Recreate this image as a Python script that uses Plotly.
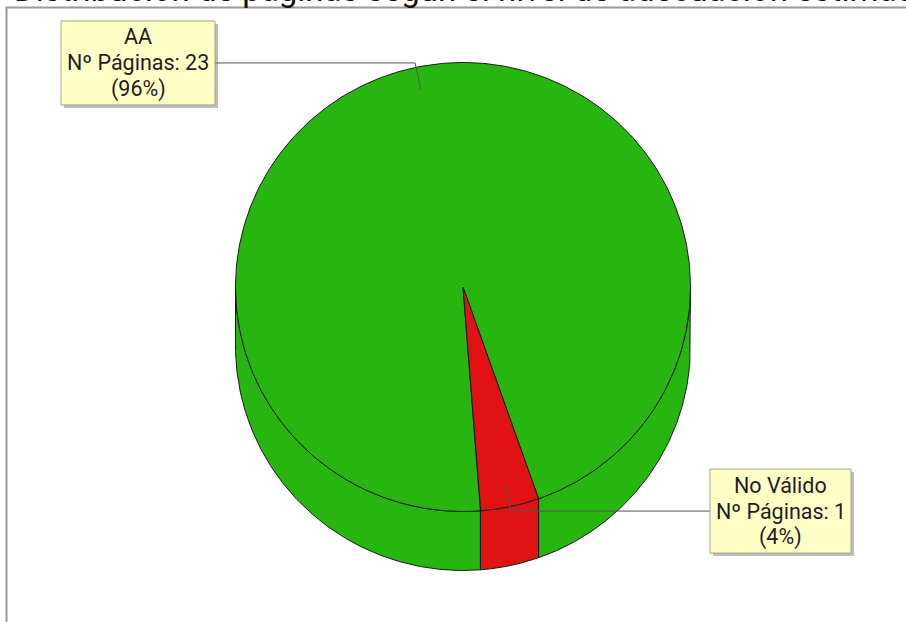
import numpy as np
import plotly.graph_objects as go

# ---------------- data ----------------
categories = ["AA", "No Válido"]
pages = [23, 1]
slice_colors = ["#26B60F", "#E01212"]
title_text = "Distribución de páginas según el nivel de adecuación estimado"
value_label = "Nº Páginas"

# ---------------- geometry / style (pixel space) ----------------
W, H = 906, 622
cx, cy = 463.0, 287.0      # centre of the top face
rx, ry = 227.5, 224.5      # radii of top face
depth = 59.0               # thickness of the pie
start_deg = 19.4           # angle (from 6 o'clock, counter-clockwise on screen) of first slice start
edge_col = "#1A1A1A"
font_fam = "Roboto"
label_size = 21.5
line_gap = 26

total = float(sum(pages))
fracs = [p / total for p in pages]
bounds = [start_deg]
for f in fracs:
    bounds.append(bounds[-1] + 360.0 * f)


def px(theta_deg, r=1.0):
    t = np.radians(theta_deg)
    return cx + r * rx * np.sin(t), cy + r * ry * np.cos(t)


fig = go.Figure()

# ---- side walls (only front half visible: cos(theta) >= 0) ----
for i, cat in enumerate(categories):
    a, b = bounds[i], bounds[i + 1]
    for k in range(-1, 3):
        lo, hi = -90 + 360 * k, 90 + 360 * k
        s, e = max(a, lo), min(b, hi)
        if e - s <= 0.01:
            continue
        th = np.linspace(s, e, 200)
        xt, yt = px(th)
        xs = np.concatenate([xt, xt[::-1], xt[:1]])
        ys = np.concatenate([yt, (yt + depth)[::-1], yt[:1]])
        fig.add_trace(go.Scatter(x=xs, y=ys, mode="lines", fill="toself",
                                 fillcolor=slice_colors[i],
                                 line=dict(color=edge_col, width=1),
                                 hoverinfo="skip", showlegend=False))

# ---- top face slices ----
for i, cat in enumerate(categories):
    a, b = bounds[i], bounds[i + 1]
    th = np.linspace(a, b, 400)
    xt, yt = px(th)
    xs = np.concatenate([[cx], xt, [cx]])
    ys = np.concatenate([[cy], yt, [cy]])
    fig.add_trace(go.Scatter(x=xs, y=ys, mode="lines", fill="toself",
                             fillcolor=slice_colors[i],
                             line=dict(color=edge_col, width=1),
                             name=cat, hoverinfo="skip", showlegend=False))

# ---- labels with leader lines ----
box_x = {"AA": (61, 215), "No Válido": (710, 851)}
box_h = 84
shapes = []
annotations = []
for i, cat in enumerate(categories):
    mid = (bounds[i] + bounds[i + 1]) / 2.0
    x_in, y_in = px(mid, 0.9)
    x_el, y_el = px(mid, 1.02)
    bx0, bx1 = box_x[cat]
    edge_x = bx1 if x_el > bx1 else bx0
    fig.add_trace(go.Scatter(x=[x_in, x_el, edge_x], y=[y_in, y_el, y_el],
                             mode="lines", line=dict(color="#555555", width=1),
                             hoverinfo="skip", showlegend=False))
    by0, by1 = y_el - box_h / 2, y_el + box_h / 2
    shapes.append(dict(type="rect", xref="x", yref="y", x0=bx0 + 3, x1=bx1 + 3,
                       y0=by0 + 3, y1=by1 + 3, line=dict(width=0),
                       fillcolor="rgba(110,110,110,0.45)", layer="above"))
    shapes.append(dict(type="rect", xref="x", yref="y", x0=bx0, x1=bx1,
                       y0=by0, y1=by1, line=dict(color="#A6A680", width=1),
                       fillcolor="#FFFFC6", layer="above"))
    pct = round(100 * fracs[i])
    lines = [cat, f"{value_label}: {pages[i]}", f"({pct}%)"]
    for j, ln in enumerate(lines):
        annotations.append(dict(x=(bx0 + bx1) / 2, y=y_el + (j - 1) * line_gap,
                                xref="x", yref="y", text=ln,
                                showarrow=False, xanchor="center", yanchor="middle",
                                font=dict(family=font_fam, size=label_size, color="#1E1E1E")))

# frame
shapes.insert(0, dict(type="rect", xref="x", yref="y", x0=6.5, x1=W + 20,
                      y0=7.5, y1=H + 20, line=dict(color="#9A9A9A", width=2),
                      fillcolor="rgba(0,0,0,0)", layer="below"))

# title (partly outside the visible page, as in the reference)
annotations.append(dict(x=12, y=11, xref="x", yref="y", text=title_text,
                        showarrow=False, xanchor="left", yanchor="bottom",
                        font=dict(family=font_fam, size=33, color="#111111")))

fig.update_layout(
    width=W, height=H,
    margin=dict(l=0, r=0, t=0, b=0),
    paper_bgcolor="white", plot_bgcolor="white",
    xaxis=dict(range=[0, W], visible=False, fixedrange=True),
    yaxis=dict(range=[H, 0], visible=False, fixedrange=True),
    shapes=shapes, annotations=annotations,
    showlegend=False,
)

fig.write_html("out.html", post_script="document.body.style.margin='0';",
               config={"displayModeBar": False})
